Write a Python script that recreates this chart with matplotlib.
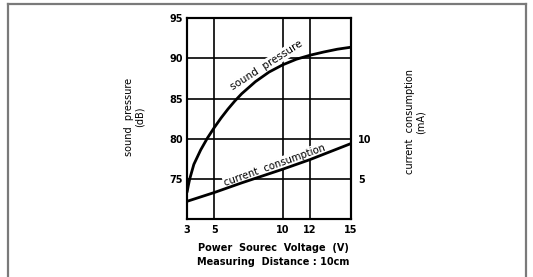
import matplotlib
matplotlib.use("Agg")
import matplotlib.pyplot as plt
from matplotlib.lines import Line2D

# sound pressure curve (dB) vs power source voltage (V)
sp_volt = [3, 3.1, 3.2, 3.5, 4, 4.5, 5, 5.5, 6, 6.5, 7, 8, 9, 10, 11, 12, 13, 14, 15]
sp_db = [73.3, 74.2, 75.0, 76.8, 78.6, 80.1, 81.4, 82.6, 83.7, 84.7, 85.6,
         87.1, 88.3, 89.2, 89.9, 90.4, 90.8, 91.15, 91.4]

# current consumption (mA) vs voltage
cc_volt = [3, 5, 7, 10, 12, 15]
cc_ma = [2.2, 3.3, 4.5, 6.2, 7.4, 9.4]

x_ticks = [3, 5, 10, 12, 15]
db_ticks = [75, 80, 85, 90, 95]
ma_ticks = [5, 10]

W, H = 533, 277
fig = plt.figure(figsize=(W / 100, H / 100), dpi=100)
fig.patch.set_facecolor("white")

def fx(px):
    return px / W

def fy(py):
    return 1 - py / H

ax = fig.add_axes([fx(187), fy(219), fx(351) - fx(187), fy(18.3) - fy(219)])
ax.set_xlim(3, 15)
ax.set_ylim(70, 95)

ax2 = ax.twinx()
ax2.set_ylim(0, 25)

# grid
for v in [5, 10, 12]:
    ax.axvline(v, color="black", lw=1.2, zorder=1)
for d in [75, 80, 85, 90]:
    ax.axhline(d, color="black", lw=1.2, zorder=1)

ax.plot(sp_volt, sp_db, color="black", lw=2.0, zorder=3,
        solid_joinstyle="round", solid_capstyle="butt")
ax2.plot(cc_volt, cc_ma, color="black", lw=2.0, zorder=3,
         solid_joinstyle="round", solid_capstyle="butt")

for a in (ax, ax2):
    for s in a.spines.values():
        s.set_linewidth(1.5)
        s.set_zorder(4)
    a.tick_params(length=0)

tick_font = dict(family="DejaVu Sans", weight="bold", size=7)
ax.set_xticks(x_ticks)
ax.set_xticklabels([str(t) for t in x_ticks], fontdict=tick_font)
ax.tick_params(axis="x", pad=4)
ax.set_yticks(db_ticks)
ax.set_yticklabels([str(t) for t in db_ticks], fontdict=tick_font)
ax.tick_params(axis="y", pad=3)
ax2.set_yticks(ma_ticks)
ax2.set_yticklabels([str(t) for t in ma_ticks], fontdict=tick_font)
ax2.tick_params(axis="y", pad=5)

# curve labels (white box breaks the grid lines, drawn under the curves)
lab_kw = dict(color="black", ha="center", va="center", zorder=2,
              transform=fig.transFigure,
              bbox=dict(facecolor="white", edgecolor="none", pad=0.8))
ax.text(fx(266), fy(65.5), "sound  pressure", rotation=32.6, fontsize=7.5, **lab_kw)
ax.text(fx(275), fy(165), "current  consumption", rotation=19.6, fontsize=7.2, **lab_kw)

# axis labels
fig.text(fx(134.5), fy(117), "sound  pressure\n(dB)", rotation=90, fontsize=7,
         ha="center", va="center", linespacing=1.1)
fig.text(fx(415.5), fy(122), "current  consumption\n(mA)", rotation=90, fontsize=7,
         ha="center", va="center", linespacing=1.1)
fig.text(fx(273), fy(248), "Power  Sourec  Voltage  (V)", fontsize=7, weight="bold",
         ha="center", va="center")
fig.text(fx(273), fy(262), "Measuring  Distance : 10cm", fontsize=7, weight="bold",
         ha="center", va="center")

# outer frame
frame_kw = dict(color="#7a7a7a", lw=1.6, transform=fig.transFigure)
fig.add_artist(Line2D([fx(8), fx(8)], [fy(4), -0.05], **frame_kw))
fig.add_artist(Line2D([fx(8), fx(526)], [fy(4), fy(4)], **frame_kw))
fig.add_artist(Line2D([fx(526), fx(526)], [fy(4), -0.05], **frame_kw))

fig.savefig("out.png", dpi=100)
